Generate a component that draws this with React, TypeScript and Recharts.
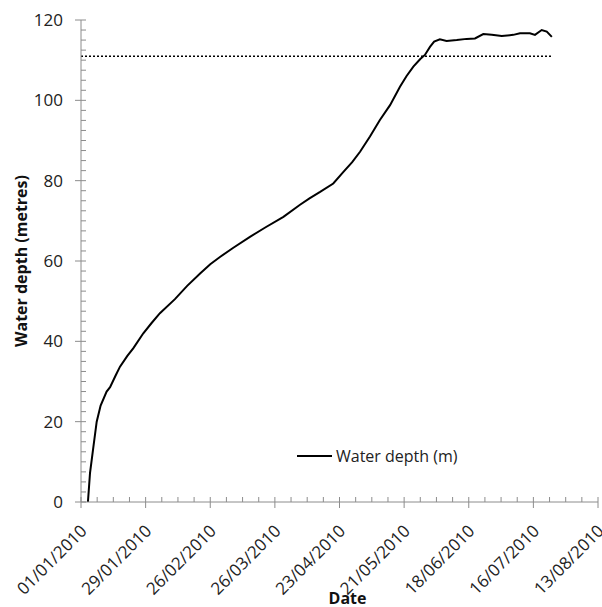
import { LineChart, Line, XAxis, YAxis, ReferenceLine } from 'recharts';

// days since 01/01/2010
const days = [
  3, 3.9, 5.2, 6.8, 8.5, 11.1, 12.6, 15, 16.9, 20, 22.7, 27, 30.5, 34.2, 40.7,
  46, 51.6, 56, 60.2, 66, 73.2, 80, 87.7, 94.9, 99, 103.6, 109.3, 113.7, 117.5,
  120.9, 125.2, 129.5, 133.9, 138.2, 141, 144, 147, 149, 151.2, 153, 155.5,
  158.4, 162.8, 167.1, 170.7, 174.3, 178, 182.3, 187.3, 190.2, 194.5, 196.7,
  199.6, 201.8, 204,
];
const depth = [
  0, 7.2, 13, 20, 24, 27.5, 28.6, 31.5, 33.7, 36.3, 38.3, 42, 44.5, 47, 50.5,
  53.8, 56.9, 59.2, 61, 63.3, 66, 68.4, 71, 74, 75.6, 77.2, 79.3, 82.2, 84.6,
  87.2, 91, 95.1, 98.8, 103.4, 106, 108.4, 110.3, 111.3, 113.3, 114.6, 115.2,
  114.8, 115, 115.3, 115.4, 116.5, 116.3, 116, 116.3, 116.7, 116.7, 116.3,
  117.5, 117.1, 115.8,
];
const threshold = 111;

const xTicks = [0, 28, 56, 84, 112, 140, 168, 196, 224];
const xTickLabels = [
  '01/01/2010', '29/01/2010', '26/02/2010', '26/03/2010', '23/04/2010',
  '21/05/2010', '18/06/2010', '16/07/2010', '13/08/2010',
];
const xMinorTicks = Array.from({ length: 33 }, (_, i) => i * 7);
const yTicks = [0, 20, 40, 60, 80, 100, 120];
const yMinorTicks = Array.from({ length: 49 }, (_, i) => i * 2.5);

const data = days.map((d, i) => ({ day: d, depth: depth[i] }));

const axisColor = '#8c8c8c';
const textColor = '#222';
const font = '"Open Sans", sans-serif';

// ticks every 7 days, labels only on the 28-day ones
const DateTick = ({ x, y, payload }: any) => {
  const i = xTicks.indexOf(payload.value);
  if (i < 0) {
    return <line x1={x} y1={y - 5} x2={x} y2={y} stroke={axisColor} />;
  }
  return (
    <g>
      <line x1={x} y1={y - 5} x2={x} y2={y + 6} stroke={axisColor} />
      <text
        x={0}
        y={0}
        textAnchor="end"
        transform={`translate(${x + 7},${y + 30}) rotate(-45)`}
        fill={textColor}
        fontSize={17}
        fontFamily={font}
      >
        {xTickLabels[i]}
      </text>
    </g>
  );
};

const DepthTick = ({ x, y, payload }: any) => {
  const major = yTicks.includes(payload.value);
  if (!major) {
    return <line x1={x} y1={y} x2={x + 5} y2={y} stroke={axisColor} />;
  }
  return (
    <g>
      <line x1={x - 6} y1={y} x2={x + 5} y2={y} stroke={axisColor} />
      <text
        x={x - 18}
        y={y + 6}
        textAnchor="end"
        fill={textColor}
        fontSize={17}
        fontFamily={font}
      >
        {payload.value}
      </text>
    </g>
  );
};

export default function App() {
  return (
    <div style={{ position: 'relative', width: 602, height: 607 }}>
      <style>{'body{margin:0}'}</style>
      <LineChart
        width={602}
        height={607}
        data={data}
        margin={{ top: 20, right: 4, left: 0, bottom: 0 }}
      >
        <XAxis
          dataKey="day"
          type="number"
          domain={[0, 224]}
          ticks={xMinorTicks}
          interval={0}
          stroke={axisColor}
          tickLine={false}
          tickSize={0}
          tickMargin={0}
          height={105}
          tick={<DateTick />}
          label={{
            value: 'Date',
            position: 'insideBottom',
            offset: 3,
            dx: 8,
            fill: '#111',
            fontSize: 16,
            fontWeight: 'bold',
            fontFamily: font,
          }}
        />
        <YAxis
          domain={[0, 120]}
          ticks={yMinorTicks}
          interval={0}
          width={81}
          stroke={axisColor}
          tickLine={false}
          tickSize={0}
          tickMargin={0}
          tick={<DepthTick />}
          label={{
            value: 'Water depth (metres)',
            angle: -90,
            position: 'insideLeft',
            dx: 16,
            fill: '#111',
            fontSize: 16,
            fontWeight: 'bold',
            fontFamily: font,
            style: { textAnchor: 'middle' },
          }}
        />
        <ReferenceLine
          segment={[
            { x: 0, y: threshold },
            { x: 204, y: threshold },
          ]}
          stroke="#000"
          strokeWidth={1.5}
          strokeDasharray="2 2"
        />
        <Line
          dataKey="depth"
          stroke="#000"
          strokeWidth={2}
          dot={false}
          type="linear"
          isAnimationActive={false}
        />
      </LineChart>
      <svg
        width={180}
        height={24}
        style={{ position: 'absolute', left: 295, top: 444 }}
      >
        <line x1={2} y1={12} x2={37} y2={12} stroke="#000" strokeWidth={2} />
        <text x={41} y={18} fontSize={16} fontFamily={font} fill={textColor}>
          Water depth (m)
        </text>
      </svg>
    </div>
  );
}
